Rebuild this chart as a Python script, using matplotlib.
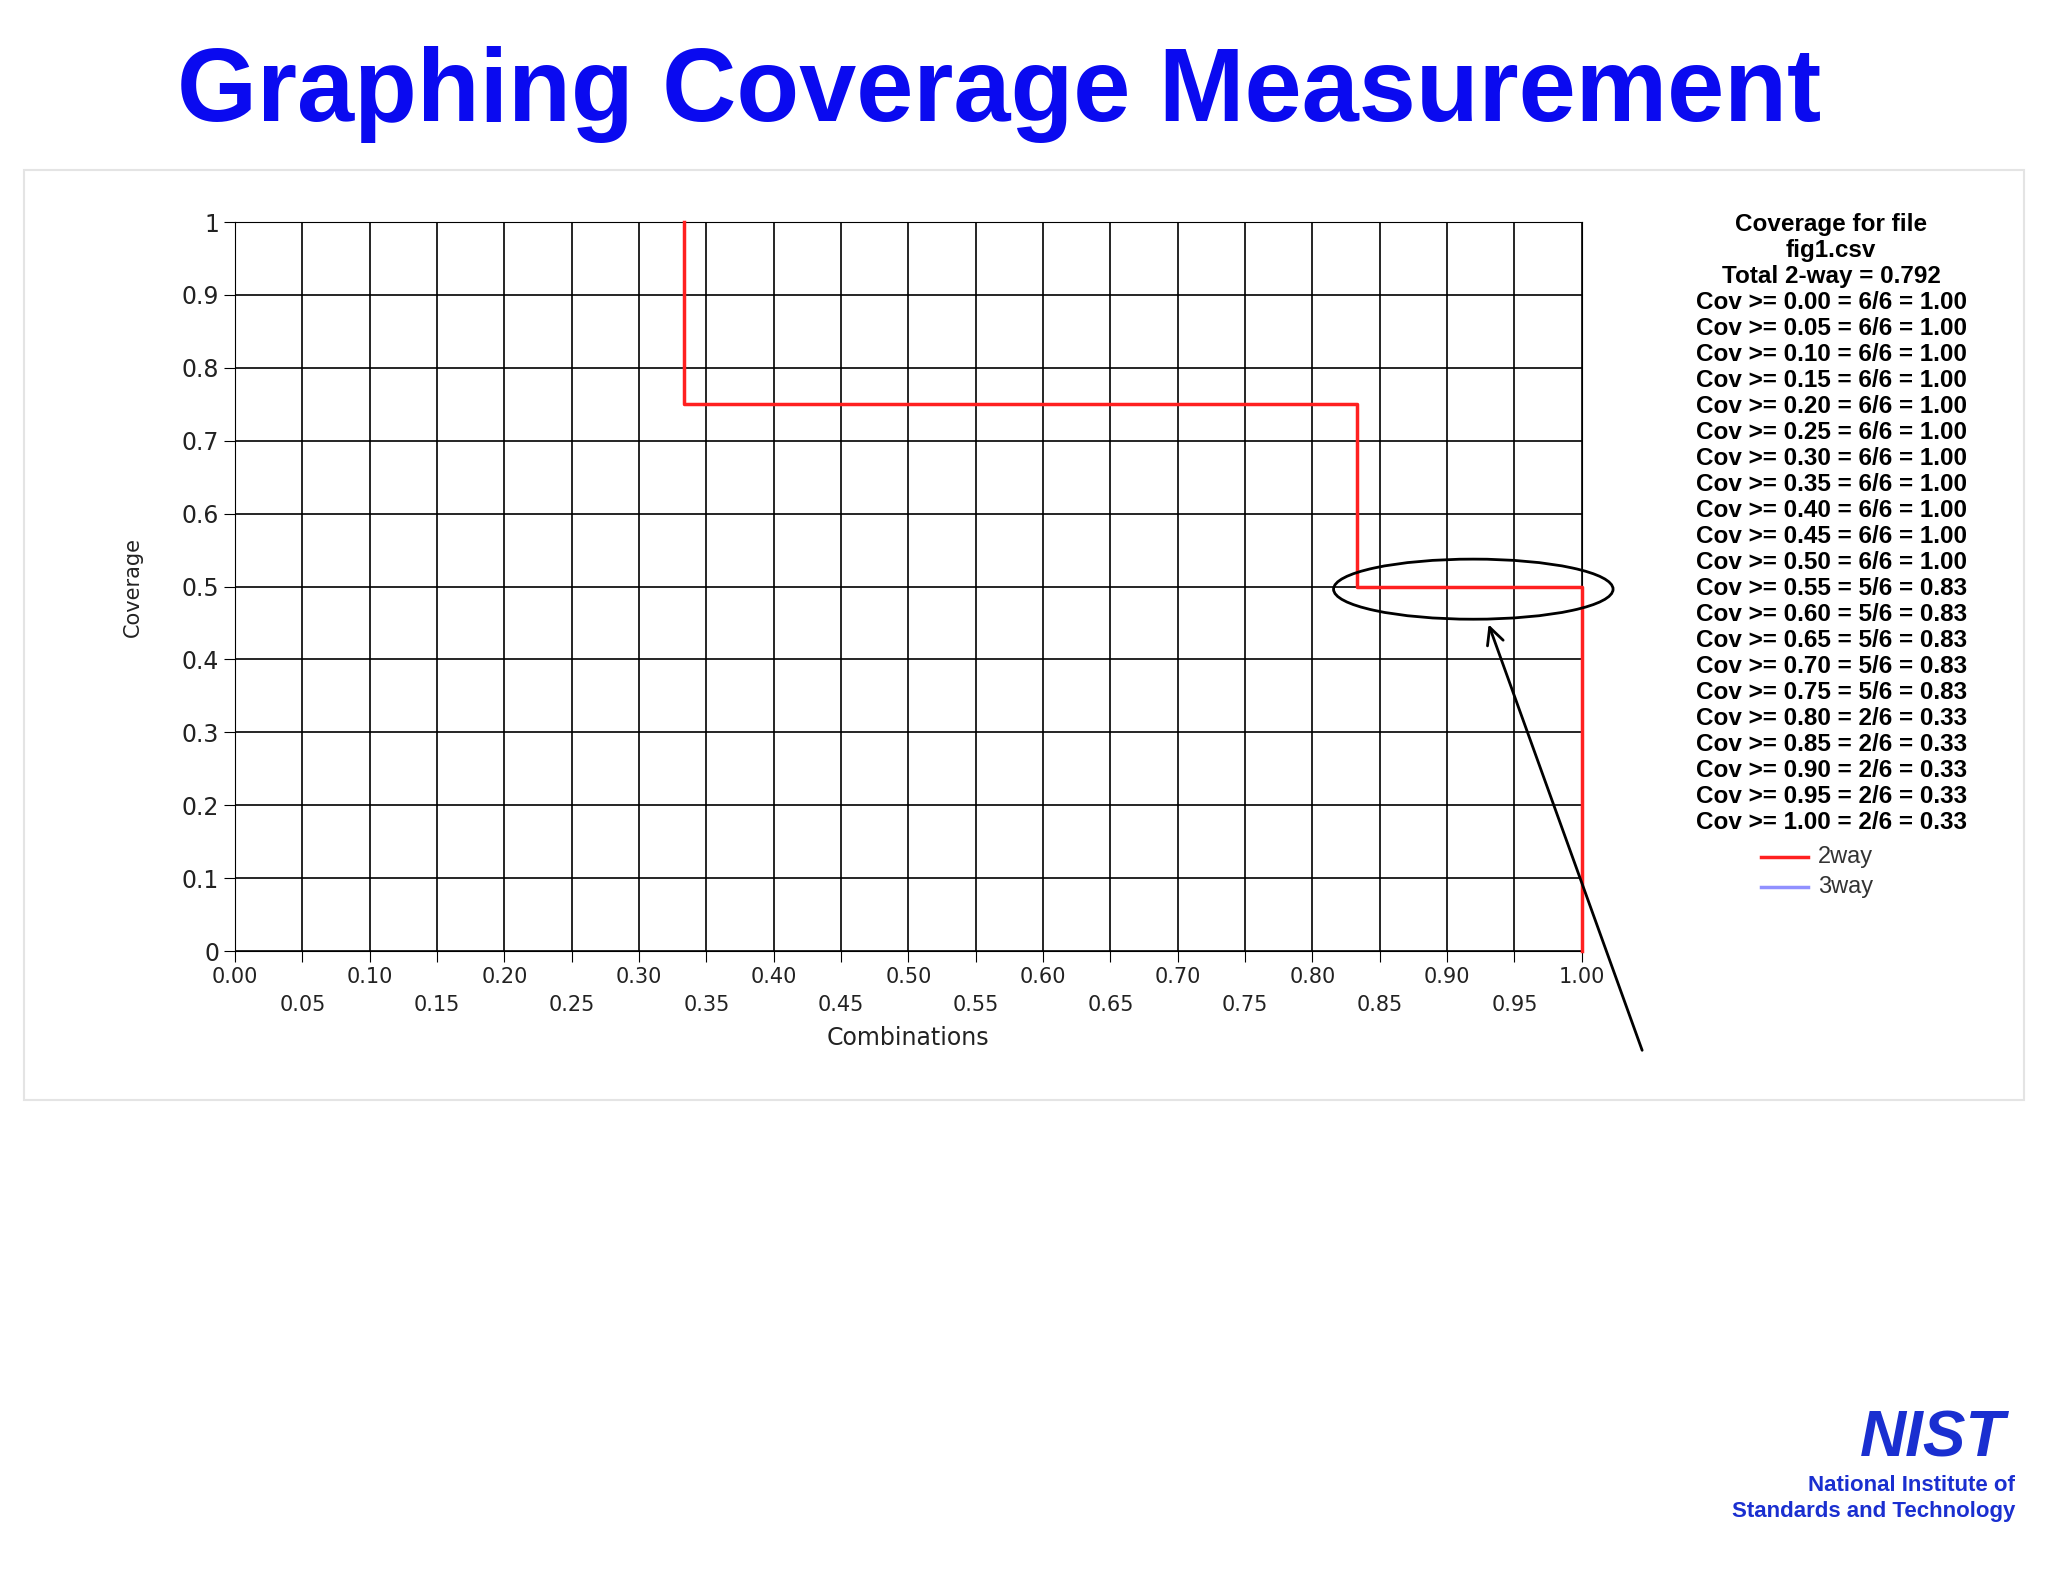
import matplotlib
matplotlib.use("Agg")
import matplotlib.pyplot as plt
from matplotlib.patches import Ellipse, Rectangle, FancyArrowPatch

comb_x = [0.333, 0.333, 0.833, 0.833, 1.0, 1.0]
cov_y = [1.0, 0.75, 0.75, 0.5, 0.5, 0.0]
thresholds = [0.00,0.05,0.10,0.15,0.20,0.25,0.30,0.35,0.40,0.45,0.50,0.55,0.60,0.65,0.70,0.75,0.80,0.85,0.90,0.95,1.00]
counts = [6,6,6,6,6,6,6,6,6,6,6,5,5,5,5,5,2,2,2,2,2]
total = 6
total_2way = 0.792

W, H = 1568, 1211
fig = plt.figure(figsize=(20.48, 15.82), dpi=100)
def fx(x): return x / W
def fy(y): return 1 - y / H

fig.patches.append(Rectangle((fx(18), fy(842)), fx(1550)-fx(18), fy(130)-fy(842),
                             transform=fig.transFigure, fill=False, ec="#e4e4e4", lw=1.5))
fig.text(fx(765), fy(72), "Graphing Coverage Measurement", ha="center", va="center",
         fontsize=74, fontweight="bold", color="#0a0af0", family="Liberation Sans")

ax = fig.add_axes([fx(180), fy(728), fx(1211)-fx(180), fy(170)-fy(728)])
ax.plot(comb_x, cov_y, color="#ff2020", lw=2.5, zorder=3, clip_on=False)
ax.set_xlim(0, 1); ax.set_ylim(0, 1)
xt = [i*0.05 for i in range(21)]
ax.set_xticks(xt)
ax.set_xticklabels([f"{v:.2f}" if i % 2 == 0 else "\n" + f"{v:.2f}" for i, v in enumerate(xt)],
                   linespacing=1.5)
ax.set_yticks([i/10 for i in range(11)])
ax.set_yticklabels(["0"] + [f"{i/10:.1f}" for i in range(1, 10)] + ["1"])
ax.grid(True, color="black", lw=1.2)
for s in ax.spines.values(): s.set_color("black")
ax.tick_params(axis="y", labelsize=17, length=8, color="black", labelcolor="#222")
ax.tick_params(axis="x", labelsize=15, length=8, color="black", labelcolor="#222")
ax.set_xlabel("Combinations", fontsize=17, labelpad=8, color="#222")
ax.set_ylabel("Coverage", fontsize=15, labelpad=28, color="#222")

lines = ["Coverage for file", "fig1.csv", f"Total 2-way = {total_2way:.3f}"] + \
    [f"Cov >= {t:.2f} = {c}/{total} = {c/total:.2f}" for t, c in zip(thresholds, counts)]
for i, l in enumerate(lines):
    fig.text(fx(1402), fy(172 + i*19.9), l, ha="center", va="center", fontsize=17.5,
             fontweight="bold", family="Liberation Sans")
fig.lines.append(plt.Line2D([fx(1348), fx(1384)], [fy(656)]*2, transform=fig.transFigure, color="#ff2020", lw=2.5))
fig.lines.append(plt.Line2D([fx(1348), fx(1384)], [fy(679)]*2, transform=fig.transFigure, color="#9090ff", lw=2.5))
fig.text(fx(1392), fy(656), "2way", va="center", fontsize=17, color="#333", family="Liberation Sans")
fig.text(fx(1392), fy(679), "3way", va="center", fontsize=17, color="#333", family="Liberation Sans")

fig.patches.append(Ellipse((fx(1128), fy(451)), fx(214), 46/H, transform=fig.transFigure,
                           fill=False, ec="black", lw=2))
fig.patches.append(FancyArrowPatch((fx(1258), fy(806)), (fx(1139), fy(476)), transform=fig.transFigure,
                                   arrowstyle="->,head_length=12,head_width=6", color="black", lw=2))

fig.text(fx(1480), fy(1102), "NIST", ha="center", va="center", fontsize=46, fontweight="bold",
         color="#1a2fd0", family="Liberation Sans", fontstyle="italic")
fig.text(fx(1543), fy(1137), "National Institute of", ha="right", va="center", fontsize=16,
         fontweight="bold", color="#1a2fd0", family="Liberation Sans")
fig.text(fx(1543), fy(1157), "Standards and Technology", ha="right", va="center", fontsize=16,
         fontweight="bold", color="#1a2fd0", family="Liberation Sans")
fig.savefig("out.png", dpi=100)
